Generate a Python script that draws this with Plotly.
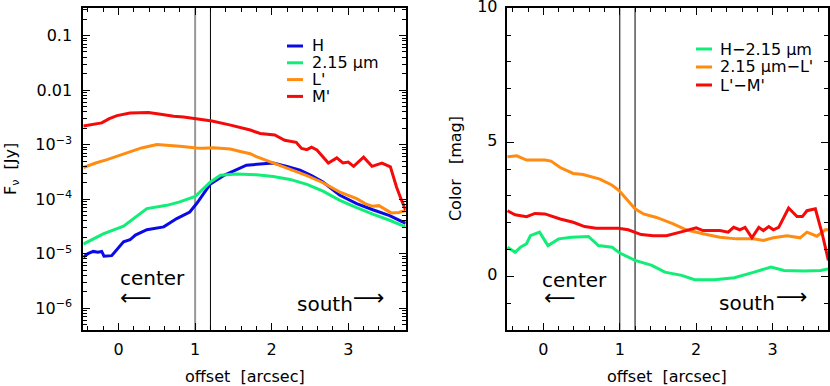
import plotly.graph_objects as go
from plotly.subplots import make_subplots

# ---- left panel: fluxes (Jy) vs offset (arcsec) ----
h_offset = [-0.46, -0.40, -0.33, -0.27, -0.22, -0.19, -0.09, -0.02, 0.065, 0.15, 0.22,
            0.37, 0.59, 0.76, 0.93, 1.02, 1.10, 1.20, 1.37, 1.54, 1.67, 1.85, 2.02,
            2.20, 2.37, 2.52, 2.67, 2.89, 3.11, 3.32, 3.54, 3.75]
h_flux = [8.7e-6, 1.0e-5, 1.1e-5, 1.06e-5, 1.1e-5, 9.0e-6, 9.2e-6, 1.2e-5, 1.65e-5, 1.8e-5,
          2.2e-5, 2.75e-5, 3.1e-5, 4.4e-5, 5.8e-5, 8.3e-5, 1.2e-4, 1.9e-4, 2.7e-4, 3.5e-4,
          4.2e-4, 4.4e-4, 4.6e-4, 4.0e-4, 3.4e-4, 2.7e-4, 2.06e-4, 1.18e-4, 8.3e-5, 6.4e-5,
          5.0e-5, 3.6e-5]

k_offset = [-0.46, -0.2, 0.065, 0.22, 0.37, 0.63, 0.8, 1.0, 1.1, 1.2, 1.33, 1.54, 1.8,
            2.02, 2.24, 2.46, 2.67, 2.89, 3.11, 3.32, 3.54, 3.75]
k_flux = [1.5e-5, 2.3e-5, 3.2e-5, 4.7e-5, 6.7e-5, 7.7e-5, 8.9e-5, 1.12e-4, 1.5e-4, 2.06e-4,
          2.74e-4, 2.9e-4, 2.8e-4, 2.6e-4, 2.3e-4, 1.87e-4, 1.4e-4, 9.5e-5, 7.0e-5, 5.3e-5,
          4.1e-5, 3.1e-5]

l_offset = [-0.46, -0.3, -0.15, -0.02, 0.15, 0.3, 0.5, 0.65, 0.8, 1.02, 1.1, 1.24, 1.46,
            1.59, 1.72, 1.8, 2.02, 2.24, 2.46, 2.67, 2.89, 3.11, 3.22, 3.32, 3.40, 3.56,
            3.66, 3.75]
l_flux = [3.8e-4, 4.6e-4, 5.3e-4, 6.1e-4, 7.5e-4, 8.7e-4, 1.0e-3, 9.5e-4, 9.3e-4, 8.7e-4,
          8.6e-4, 8.8e-4, 8.3e-4, 7.5e-4, 6.8e-4, 6.0e-4, 4.6e-4, 3.6e-4, 2.7e-4, 2.0e-4,
          1.35e-4, 1.02e-4, 8.3e-5, 7.4e-5, 7.6e-5, 5.6e-5, 5.7e-5, 6.2e-5]

m_offset = [-0.46, -0.35, -0.22, -0.12, -0.02, 0.15, 0.39, 0.55, 0.72, 0.85, 1.0, 1.22,
            1.45, 1.59, 1.72, 1.85, 2.04, 2.17, 2.32, 2.39, 2.46, 2.52, 2.59, 2.74, 2.85,
            2.93, 3.0, 3.07, 3.2, 3.31, 3.44, 3.55, 3.63, 3.69, 3.75]
m_flux = [2.2e-3, 2.3e-3, 2.5e-3, 3.0e-3, 3.4e-3, 3.8e-3, 3.9e-3, 3.6e-3, 3.3e-3, 3.2e-3,
          3.0e-3, 2.7e-3, 2.3e-3, 2.05e-3, 1.85e-3, 1.6e-3, 1.5e-3, 1.2e-3, 1.1e-3, 8.5e-4,
          8.1e-4, 9.0e-4, 8.0e-4, 4.6e-4, 5.7e-4, 4.6e-4, 4.8e-4, 4.0e-4, 5.9e-4, 4.0e-4,
          4.6e-4, 3.9e-4, 1.67e-4, 1.0e-4, 6.3e-5]

# ---- right panel: colours (mag) ----
hk_offset = [-0.47, -0.37, -0.30, -0.22, -0.17, -0.05, 0.06, 0.2, 0.37, 0.59, 0.72, 0.9,
             1.0, 1.2, 1.42, 1.59, 1.81, 1.98, 2.24, 2.5, 2.76, 2.98, 3.15, 3.41, 3.63, 3.73]
hk_color = [1.09, 0.9, 1.09, 1.22, 1.52, 1.65, 1.15, 1.4, 1.46, 1.49, 1.15, 1.09, 0.87,
            0.6, 0.41, 0.16, 0.04, -0.12, -0.12, -0.05, 0.16, 0.35, 0.22, 0.2, 0.22, 0.28]

kl_offset = [-0.47, -0.35, -0.22, 0.02, 0.1, 0.22, 0.39, 0.52, 0.74, 0.9, 0.99, 1.09, 1.2,
             1.31, 1.48, 1.7, 1.87, 2.09, 2.31, 2.53, 2.75, 2.88, 3.01, 3.19, 3.36, 3.45,
             3.58, 3.69, 3.73]
kl_color = [4.46, 4.5, 4.34, 4.34, 4.3, 4.06, 3.84, 3.8, 3.63, 3.4, 3.2, 2.89, 2.52, 2.33,
            2.2, 1.96, 1.74, 1.59, 1.46, 1.4, 1.4, 1.34, 1.44, 1.52, 1.44, 1.65, 1.5, 1.74,
            1.74]

lm_offset = [-0.47, -0.37, -0.22, -0.11, 0.02, 0.22, 0.39, 0.54, 0.69, 0.98, 1.11, 1.28,
             1.44, 1.61, 1.83, 2.0, 2.09, 2.31, 2.42, 2.49, 2.57, 2.64, 2.73, 2.82, 2.88,
             2.95, 3.01, 3.08, 3.21, 3.32, 3.39, 3.45, 3.56, 3.65, 3.73]
lm_color = [2.45, 2.3, 2.23, 2.35, 2.33, 2.14, 2.02, 1.86, 1.8, 1.8, 1.74, 1.56, 1.52,
            1.52, 1.68, 1.81, 1.71, 1.71, 1.65, 1.83, 1.74, 1.83, 1.44, 1.83, 1.71, 1.86,
            1.74, 1.83, 2.55, 2.23, 2.23, 2.45, 2.52, 1.59, 0.6]

flux_names = ["H", "2.15 \u03bcm", "L'", "M'"]
color_names = ["H\u22122.15 \u03bcm", "2.15 \u03bcm\u2212L'", "L'\u2212M'"]
boundary_offsets = [1.0, 1.2]
flux_tickvals = [1e-6, 1e-5, 1e-4, 1e-3, 0.01, 0.1]
flux_ticktext = ["10<sup>\u22126</sup>", "10<sup>\u22125</sup>", "10<sup>\u22124</sup>",
                 "10<sup>\u22123</sup>", "0.01", "0.1"]

BLUE = "#0a0ae6"
GREEN = "#10ee78"
ORANGE = "#ff8c10"
RED = "#f50a0a"
FONT = "DejaVu Sans"
W, H = 830, 386

fig = make_subplots(rows=1, cols=2)

flux_cols = [BLUE, GREEN, ORANGE, RED]
for x, y, name, col in zip([h_offset, k_offset, l_offset, m_offset],
                           [h_flux, k_flux, l_flux, m_flux], flux_names, flux_cols):
    fig.add_trace(go.Scatter(x=x, y=y, mode="lines", name=name, showlegend=False,
                             line=dict(color=col, width=3)), row=1, col=1)

color_cols = [GREEN, ORANGE, RED]
for x, y, name, col in zip([hk_offset, kl_offset, lm_offset],
                           [hk_color, kl_color, lm_color], color_names, color_cols):
    fig.add_trace(go.Scatter(x=x, y=y, mode="lines", name=name, showlegend=False,
                             line=dict(color=col, width=3)), row=1, col=2)

# vertical reference lines
fig.add_shape(type="line", xref="x", yref="y domain", x0=boundary_offsets[0],
              x1=boundary_offsets[0], y0=0, y1=1, layer="below",
              line=dict(color="#999999", width=2))
fig.add_shape(type="line", xref="x", yref="y domain", x0=boundary_offsets[1],
              x1=boundary_offsets[1], y0=0, y1=1, layer="below",
              line=dict(color="black", width=1))
for b in boundary_offsets:
    fig.add_shape(type="line", xref="x2", yref="y2 domain", x0=b, x1=b, y0=0, y1=1,
                  layer="below", line=dict(color="black", width=1))

txt = dict(family=FONT, size=16, color="black")
annots = []


# compact legends: short line + label, like the original figure
def add_legend(names, cols, line_x0, text_x, row_y0, row_step):
    for i, (name, col) in enumerate(zip(names, cols)):
        yy = 1 - (row_y0 + i * row_step) / H
        fig.add_shape(type="line", xref="paper", yref="paper",
                      x0=line_x0 / W, x1=(line_x0 + 16) / W, y0=yy, y1=yy,
                      line=dict(color=col, width=3))
        annots.append(dict(text=name, x=text_x / W, y=yy, xref="paper", yref="paper",
                           xanchor="left", yanchor="middle", showarrow=False, font=txt))


add_legend(flux_names, flux_cols, 287, 310, 46, 16.8)
add_legend(color_names, color_cols, 696, 718, 49, 18)

axis_common = dict(showline=True, linecolor="black", linewidth=2, mirror="allticks",
                   ticks="inside", ticklen=7, tickwidth=1.3, tickcolor="black",
                   showgrid=False, zeroline=False, automargin=False,
                   tickfont=dict(family=FONT, size=16, color="black"))

fig.update_xaxes(**axis_common, tickvals=[0, 1, 2, 3], ticklabelstandoff=4,
                 minor=dict(ticks="inside", ticklen=4, dtick=0.2, tick0=0,
                            tickcolor="black", tickwidth=1.2, showgrid=False))
fig.update_xaxes(range=[-0.46, 3.75], domain=[0.1004, 0.4888], row=1, col=1)
fig.update_xaxes(range=[-0.48, 3.73], domain=[0.6105, 0.998], row=1, col=2)

fig.update_yaxes(**axis_common, type="log", range=[-6.4, -0.5],
                 tickvals=flux_tickvals, ticktext=flux_ticktext, ticklabelstandoff=6,
                 minor=dict(ticks="inside", ticklen=4, dtick="D1",
                            tickcolor="black", tickwidth=1.2, showgrid=False),
                 domain=[0.145, 0.9785], row=1, col=1)
# the top "10" label sits right at the page edge: let it show, nudged down a little
fig.update_yaxes(**axis_common, range=[-2, 10], tickvals=[0, 5, 10],
                 ticklabelstandoff=4, ticklabelshift=-2, ticklabeloverflow="allow",
                 minor=dict(ticks="inside", ticklen=4, dtick=1, tick0=0,
                            tickcolor="black", tickwidth=1.2, showgrid=False),
                 domain=[0.145, 0.9785], row=1, col=2)

big = dict(family=FONT, size=20, color="black")
arrow = dict(family=FONT, size=22, color="black")
annots += [
    # axis titles
    dict(text="offset  [arcsec]", x=0.2946, y=10 / H, xref="paper", yref="paper",
         xanchor="center", yanchor="middle", showarrow=False, font=txt),
    dict(text="offset  [arcsec]", x=0.8042, y=10 / H, xref="paper", yref="paper",
         xanchor="center", yanchor="middle", showarrow=False, font=txt),
    dict(text="F<sub>\u03bd</sub>  [Jy]", x=11 / W, y=0.562, xref="paper", yref="paper",
         xanchor="center", yanchor="middle", showarrow=False, textangle=-90, font=txt),
    dict(text="Color   [mag]", x=455 / W, y=0.562, xref="paper", yref="paper",
         xanchor="center", yanchor="middle", showarrow=False, textangle=-90, font=txt),
    # direction labels, left panel
    dict(text="center", x=0.44, y=-5.45, xref="x", yref="y", showarrow=False, font=big),
    dict(text="south", x=2.69, y=-5.92, xref="x", yref="y", showarrow=False, font=big),
    dict(text="\u27f5", x=0.23, y=-5.80, xref="x", yref="y", showarrow=False, font=arrow),
    dict(text="\u27f6", x=3.27, y=-5.80, xref="x", yref="y", showarrow=False, font=arrow),
    # direction labels, right panel
    dict(text="center", x=0.41, y=-0.15, xref="x2", yref="y2", showarrow=False, font=big),
    dict(text="south", x=2.67, y=-1.0, xref="x2", yref="y2", showarrow=False, font=big),
    dict(text="\u27f5", x=0.22, y=-0.78, xref="x2", yref="y2", showarrow=False, font=arrow),
    dict(text="\u27f6", x=3.26, y=-0.74, xref="x2", yref="y2", showarrow=False, font=arrow),
]

fig.update_layout(
    width=W, height=H,
    margin=dict(l=0, r=0, t=0, b=0, autoexpand=False),
    plot_bgcolor="white", paper_bgcolor="white",
    font=dict(family=FONT, size=16, color="black"),
    annotations=annots,
    showlegend=False,
)

fig.write_html("out.html", config={"displayModeBar": False},
               post_script="document.body.style.margin='0';")
